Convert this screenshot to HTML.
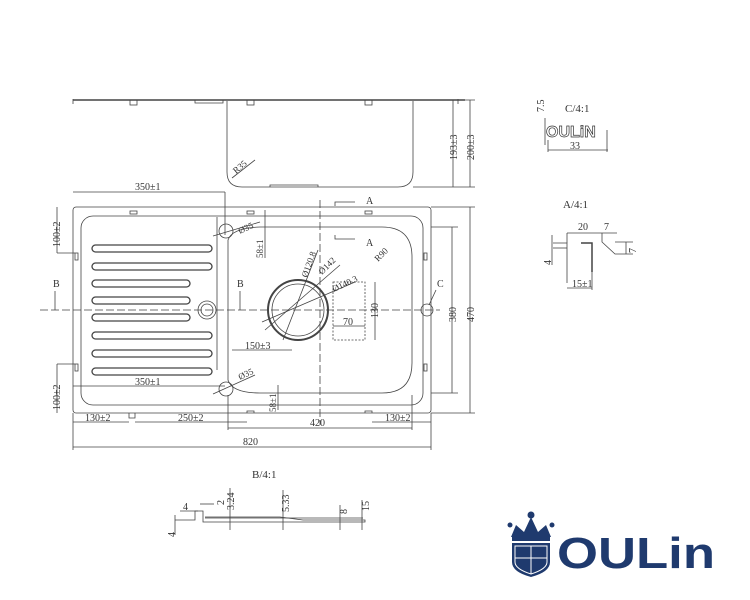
<!DOCTYPE html><html><head><style>body{margin:0;background:#fff}svg{display:block}text{font-family:"Liberation Serif",serif;fill:#333;stroke:none}</style></head><body>
<svg width="750" height="600" viewBox="0 0 750 600" xmlns="http://www.w3.org/2000/svg" stroke="#444" fill="none" stroke-width="0.8">
<line x1="73" y1="100" x2="465" y2="100" stroke-width="1.5"/>
<line x1="73" y1="99" x2="73" y2="104"/><line x1="458" y1="99" x2="458" y2="104"/>
<rect x="130" y="100" width="7" height="5"/><rect x="247" y="100" width="7" height="5"/><rect x="365" y="100" width="7" height="5"/>
<path d="M195 100 v3 h28 v-3"/>
<path d="M227 101 V172 Q227 187 242 187 H398 Q413 187 413 172 V101"/>
<path d="M270 187 v-2 h48 v2"/>
<line x1="413" y1="100" x2="475" y2="100"/><line x1="413" y1="187" x2="475" y2="187"/>
<line x1="453" y1="100" x2="453" y2="187"/><line x1="470" y1="100" x2="470" y2="187"/>
<text x="0" y="0" font-size="10" transform="translate(457,160) rotate(-90)">193±3</text>
<text x="0" y="0" font-size="10" transform="translate(474,160) rotate(-90)">200±3</text>
<line x1="232" y1="178" x2="255" y2="160"/><text font-size="9" transform="translate(236,174) rotate(-40)">R35</text>
<rect x="73" y="207" width="358" height="206" rx="3"/>
<rect x="81" y="216" width="342" height="189" rx="12"/>
<g stroke-width="1.3">
<rect x="92" y="245" width="120" height="7" rx="3.5"/><rect x="92" y="263" width="120" height="7" rx="3.5"/>
<rect x="92" y="280" width="98" height="7" rx="3.5"/><rect x="92" y="297" width="98" height="7" rx="3.5"/>
<rect x="92" y="314" width="98" height="7" rx="3.5"/><rect x="92" y="332" width="120" height="7" rx="3.5"/>
<rect x="92" y="350" width="120" height="7" rx="3.5"/><rect x="92" y="368" width="120" height="7" rx="3.5"/>
</g>
<path d="M217 217 V370"/>
<path d="M228 240 Q232 228 260 227 H382 Q412 227 412 257 V363 Q412 393 382 393 H260 Q232 393 228 380 Z"/>
<circle cx="207" cy="310" r="9"/><circle cx="207" cy="310" r="6"/>
<circle cx="298" cy="310" r="30" stroke-width="2"/><circle cx="298" cy="310" r="26"/>
<circle cx="226" cy="231" r="7"/><circle cx="226" cy="389" r="7"/>
<circle cx="427" cy="310" r="6"/>
<rect x="130" y="211" width="7" height="3"/><rect x="247" y="211" width="7" height="3"/><rect x="365" y="211" width="7" height="3"/>
<rect x="75" y="253" width="3" height="7"/><rect x="75" y="364" width="3" height="7"/>
<rect x="424" y="253" width="3" height="7"/><rect x="424" y="364" width="3" height="7"/>
<path d="M129 413 v5 h6 v-5"/><path d="M247 413 v-2 h7 v2"/><path d="M365 413 v-2 h7 v2"/>
<rect x="333" y="282" width="32" height="58" stroke-dasharray="2,1.5"/>
<line x1="40" y1="310" x2="440" y2="310" stroke-dasharray="8,3"/>
<line x1="320" y1="200" x2="320" y2="425" stroke-dasharray="8,3"/>
<path d="M335 206 v-4 h20"/><path d="M335 235 v4 h20"/>
<text x="366" y="204" font-size="10">A</text><text x="366" y="246" font-size="10">A</text>
<text x="53" y="287" font-size="10">B</text><line x1="55" y1="291" x2="55" y2="310"/>
<text x="237" y="287" font-size="10">B</text><line x1="240" y1="291" x2="240" y2="310"/>
<text x="437" y="287" font-size="10">C</text><line x1="436" y1="290" x2="429" y2="305"/>
<line x1="73" y1="192" x2="225" y2="192"/><line x1="225" y1="192" x2="225" y2="235"/><text x="135" y="190" font-size="10">350±1</text>
<line x1="73" y1="386" x2="225" y2="386"/><text x="135" y="385" font-size="10">350±1</text>
<line x1="57" y1="207" x2="57" y2="253"/><line x1="57" y1="253" x2="75" y2="253"/><text font-size="10" transform="translate(60,247) rotate(-90)">100±2</text>
<line x1="57" y1="364" x2="57" y2="413"/><line x1="57" y1="364" x2="75" y2="364"/><text font-size="10" transform="translate(60,410) rotate(-90)">100±2</text>
<line x1="265" y1="210" x2="265" y2="258"/><text font-size="9" transform="translate(263,258) rotate(-90)">58±1</text>
<line x1="278" y1="385" x2="278" y2="410"/><text font-size="9" transform="translate(276,412) rotate(-90)">58±1</text>
<line x1="232" y1="350" x2="292" y2="350"/><text x="245" y="349" font-size="10">150±3</text>
<line x1="333" y1="326" x2="365" y2="326"/><text x="343" y="325" font-size="10">70</text>
<line x1="375" y1="282" x2="375" y2="340"/><text font-size="10" transform="translate(378,318) rotate(-90)">130</text>
<line x1="283" y1="340" x2="318" y2="250"/><line x1="265" y1="330" x2="340" y2="265"/><line x1="262" y1="322" x2="355" y2="282"/>
<text font-size="9" transform="translate(307,278) rotate(-70)">Ø120.8</text>
<text font-size="9" transform="translate(322,275) rotate(-45)">Ø142</text>
<text font-size="9" transform="translate(334,292) rotate(-25)">Ø140.3</text>
<text font-size="9" transform="translate(378,262) rotate(-45)">R90</text>
<text font-size="9" transform="translate(240,234) rotate(-25)">Ø35</text>
<text font-size="9" transform="translate(240,380) rotate(-25)">Ø35</text>
<line x1="213" y1="236" x2="260" y2="222"/><line x1="213" y1="394" x2="255" y2="375"/>
<line x1="431" y1="227" x2="458" y2="227"/><line x1="431" y1="393" x2="458" y2="393"/><line x1="452" y1="227" x2="452" y2="393"/><text font-size="10" transform="translate(456,322) rotate(-90)">380</text>
<line x1="431" y1="207" x2="475" y2="207"/><line x1="431" y1="413" x2="475" y2="413"/><line x1="470" y1="207" x2="470" y2="413"/><text font-size="10" transform="translate(474,322) rotate(-90)">470</text>
<line x1="73" y1="413" x2="73" y2="450"/><line x1="431" y1="413" x2="431" y2="450"/>
<line x1="73" y1="422" x2="129" y2="422"/><text x="85" y="421" font-size="10">130±2</text>
<line x1="135" y1="422" x2="247" y2="422"/><text x="178" y="421" font-size="10">250±2</text>
<line x1="372" y1="422" x2="431" y2="422"/><text x="385" y="421" font-size="10">130±2</text>
<line x1="228" y1="395" x2="228" y2="430"/><line x1="412" y1="395" x2="412" y2="430"/>
<line x1="228" y1="428" x2="412" y2="428"/><text x="310" y="426" font-size="10">420</text>
<line x1="73" y1="447" x2="431" y2="447"/><text x="243" y="445" font-size="10">820</text>
<text x="565" y="112" font-size="11">C/4:1</text>
<text font-size="10" transform="translate(544,112) rotate(-90)">7.5</text>
<line x1="545" y1="118" x2="545" y2="145"/>
<text x="546" y="137" font-size="16" style="font-family:'Liberation Sans',sans-serif;font-weight:bold;fill:none;stroke:#333;stroke-width:0.7">OULiN</text>
<line x1="548" y1="150" x2="608" y2="150"/><line x1="548" y1="140" x2="548" y2="152"/><line x1="607" y1="130" x2="607" y2="152"/>
<text x="570" y="149" font-size="10">33</text>
<text x="563" y="208" font-size="11">A/4:1</text>
<path d="M553 243 H567 V283"/><path d="M553 248 H567"/>
<line x1="567" y1="233" x2="617" y2="233"/><line x1="567" y1="233" x2="567" y2="243"/>
<path d="M602 233 V242 L615 254 H633"/><path d="M615 242 H633"/>
<path d="M581 243 H592 V272" stroke-width="1.5"/>
<line x1="567" y1="288" x2="592" y2="288"/><line x1="592" y1="272" x2="592" y2="290"/>
<text x="572" y="287" font-size="10">15±1</text>
<text x="578" y="230" font-size="10">20</text><text x="604" y="230" font-size="10">7</text>
<line x1="552" y1="235" x2="552" y2="265"/><text font-size="10" transform="translate(551,265) rotate(-90)">4</text>
<line x1="626" y1="242" x2="626" y2="254"/><text font-size="10" transform="translate(636,253) rotate(-90)">7</text>
<text x="252" y="478" font-size="11">B/4:1</text>
<path d="M175 520 H195 V511 H203 V522 H365 V520 H303 L280 517 H205"/>
<line x1="205" y1="518" x2="363" y2="518"/>
<line x1="175" y1="515" x2="175" y2="535"/><text font-size="10" transform="translate(175,537) rotate(-90)">4</text>
<text x="183" y="510" font-size="10">4</text><line x1="180" y1="511" x2="198" y2="511"/>
<line x1="200" y1="504" x2="214" y2="504"/><text font-size="10" transform="translate(224,505) rotate(-90)">2</text>
<line x1="230" y1="488" x2="230" y2="530"/><text font-size="10" transform="translate(234,510) rotate(-90)">3.24</text>
<line x1="283" y1="490" x2="283" y2="530"/><text font-size="10" transform="translate(289,512) rotate(-90)">5.33</text>
<line x1="340" y1="505" x2="340" y2="530"/><text font-size="10" transform="translate(347,514) rotate(-90)">8</text>
<line x1="362" y1="500" x2="362" y2="530"/><text font-size="10" transform="translate(369,511) rotate(-90)">15</text>
<g stroke="none" fill="#1f3a6e">
<path d="M511 537 L516 525 L524 532 L531 517 L538 532 L546 525 L551 537 Z"/>
<circle cx="531" cy="515" r="3.5"/><circle cx="510" cy="525" r="2.5"/><circle cx="552" cy="525" r="2.5"/>
<rect x="512" y="537" width="38" height="4"/>
<path d="M512 543 H550 V562 Q550 572 531 577 Q512 572 512 562 Z"/>
</g>
<path d="M515 546 H547 V562 Q547 569 531 574 Q515 569 515 562 Z M515 558 H547 M531 546 V574" stroke="#fff" stroke-width="1"/>
<text x="557" y="568" font-size="44" textLength="158" lengthAdjust="spacingAndGlyphs" style="font-family:'Liberation Sans',sans-serif;font-weight:bold;fill:#1f3a6e">OULin</text>
</svg>
</body></html>
